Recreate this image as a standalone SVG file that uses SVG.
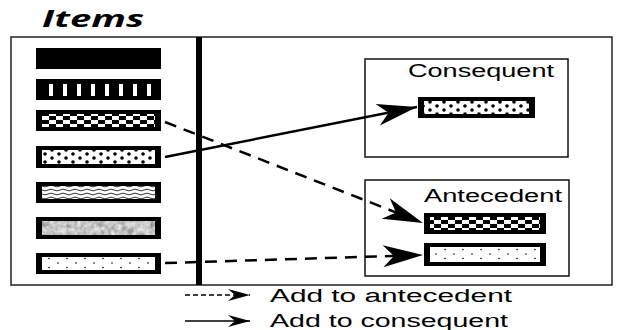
<svg xmlns="http://www.w3.org/2000/svg" width="625" height="330" viewBox="0 0 625 330">
<style>
.frame{fill:none;stroke:#222;stroke-width:1.5}
.box{fill:none;stroke:#111;stroke-width:1.5}
.bar{fill:#000}
.lbl{font-family:"Liberation Sans",Arial,sans-serif;font-size:18px;fill:#000}
.conn{fill:none;stroke:#000;stroke-width:2.5}
.dash{stroke-dasharray:12 8}
.leg{fill:none;stroke:#000;stroke-width:1.5}
</style>
<defs>
<pattern id="checker" patternUnits="userSpaceOnUse" width="14" height="8">
<rect width="14" height="8" fill="#fff"/>
<rect x="0" y="0" width="7" height="4" fill="#000"/>
<rect x="7" y="4" width="7" height="4" fill="#000"/>
</pattern>
<pattern id="dots" patternUnits="userSpaceOnUse" width="14" height="8">
<rect width="14" height="8" fill="#fff"/>
<circle cx="3" cy="2" r="1.8" fill="#000"/>
<circle cx="10" cy="6" r="1.8" fill="#000"/>
</pattern>
<pattern id="wave" patternUnits="userSpaceOnUse" width="12" height="4">
<rect width="12" height="4" fill="#fff"/>
<path d="M0,2 Q3,0.3 6,2 T12,2" fill="none" stroke="#000" stroke-width="0.8"/>
</pattern>
<pattern id="sparse" patternUnits="userSpaceOnUse" width="18" height="9">
<rect width="18" height="9" fill="#fff"/>
<circle cx="4" cy="2" r="0.8" fill="#000"/>
<circle cx="13" cy="6.5" r="0.8" fill="#000"/>
</pattern>
<filter id="noise" x="0" y="0" width="1" height="1">
<feTurbulence type="fractalNoise" baseFrequency="0.18" numOctaves="3" seed="4"/>
<feColorMatrix type="matrix" values="0.9 0 0 0 0.1  0.9 0 0 0 0.1  0.9 0 0 0 0.1  0 0 0 0 1"/>
</filter>
<marker id="big" markerUnits="userSpaceOnUse" viewBox="-42 -13 44 26" refX="0" refY="0" markerWidth="44" markerHeight="26" orient="auto">
<path d="M0,0 L-40,-11 L-29,0 L-40,11 Z" fill="#000"/>
</marker>
<marker id="small" markerUnits="userSpaceOnUse" viewBox="-24 -7 26 14" refX="0" refY="0" markerWidth="26" markerHeight="14" orient="auto">
<path d="M0,0 L-22,-6 L-15,0 L-22,6 Z" fill="#000"/>
</marker>
</defs>

<text x="42" y="27" font-family="'Open Sans','DejaVu Sans',sans-serif" font-size="24" font-weight="700" font-style="italic" textLength="102" lengthAdjust="spacingAndGlyphs">Items</text>

<g id="items-frame">
<rect class="frame" x="11" y="37" width="601" height="248"/>
<rect x="196" y="37" width="6" height="248" fill="#000"/>
</g>

<g id="item1"><rect class="bar" x="36" y="48" width="125" height="21"/></g>
<g id="item2">
<rect class="bar" x="36" y="79" width="125" height="21"/>
<g fill="#fff">
<rect x="49" y="84" width="4" height="12"/><rect x="63" y="84" width="4" height="12"/>
<rect x="77" y="84" width="4" height="12"/><rect x="91" y="84" width="4" height="12"/>
<rect x="105" y="84" width="4" height="12"/><rect x="119" y="84" width="4" height="12"/>
<rect x="133" y="84" width="4" height="12"/><rect x="147" y="84" width="4" height="12"/>
</g>
</g>
<g id="item3"><rect class="bar" x="36" y="110" width="125" height="21"/><rect x="42" y="114" width="113" height="13" fill="url(#checker)"/></g>
<g id="item4"><rect class="bar" x="36" y="146" width="125" height="22"/><rect x="42" y="150" width="113" height="14" fill="url(#dots)"/></g>
<g id="item5"><rect class="bar" x="36" y="182" width="125" height="21"/><rect x="42" y="186" width="113" height="13" fill="url(#wave)"/></g>
<g id="item6"><rect class="bar" x="36" y="217" width="125" height="22"/><rect x="42" y="221" width="113" height="14" fill="#888" filter="url(#noise)"/></g>
<g id="item7"><rect class="bar" x="36" y="253" width="125" height="21"/><rect x="42" y="257" width="113" height="13" fill="url(#sparse)"/></g>

<g id="consequent">
<rect class="box" x="365" y="59" width="203" height="98"/>
<text class="lbl" x="408" y="77" textLength="146" lengthAdjust="spacingAndGlyphs">Consequent</text>
<rect class="bar" x="418" y="97" width="117" height="21"/>
<rect x="424" y="101" width="105" height="13" fill="url(#dots)"/>
</g>

<g id="antecedent">
<rect class="box" x="365" y="180" width="204" height="96"/>
<text class="lbl" x="424" y="202" textLength="138" lengthAdjust="spacingAndGlyphs">Antecedent</text>
<rect class="bar" x="424" y="213" width="122" height="21"/>
<rect x="430" y="217" width="110" height="13" fill="url(#checker)"/>
<rect class="bar" x="424" y="243" width="122" height="23"/>
<rect x="430" y="247" width="110" height="15" fill="url(#sparse)"/>
</g>

<g id="connectors">
<line class="conn dash" x1="165" y1="122" x2="423" y2="223" marker-end="url(#big)"/>
<line class="conn" x1="165" y1="157" x2="417" y2="107" marker-end="url(#big)"/>
<line class="conn dash" x1="165" y1="263" x2="423" y2="255" marker-end="url(#big)"/>
</g>

<g id="legend">
<line class="leg" x1="185" y1="295" x2="250" y2="295" stroke-dasharray="5 3" stroke="#333" marker-end="url(#small)"/>
<text class="lbl" x="270" y="302" textLength="242" lengthAdjust="spacingAndGlyphs">Add to antecedent</text>
<line class="leg" x1="185" y1="321" x2="250" y2="321" marker-end="url(#small)"/>
<text class="lbl" x="270" y="327" textLength="238" lengthAdjust="spacingAndGlyphs">Add to consequent</text>
</g>
</svg>
